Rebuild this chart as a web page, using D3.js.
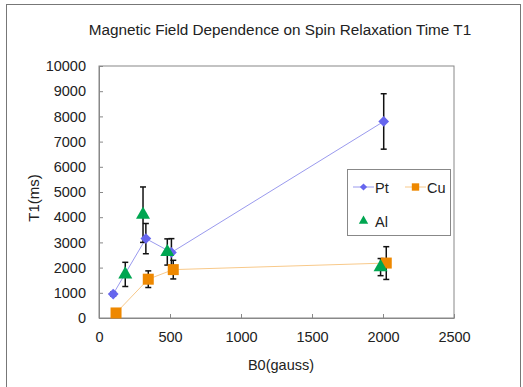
<!DOCTYPE html>
<html lang="en">
    <head>
        <meta charset="utf-8">
        <title>Magnetic Field Dependence</title>
        <script type="text/javascript" src="https://d3js.org/d3.v7.min.js"></script>
        <style type="text/css">
            body { margin: 0; background: white; }
            text {
                font-family: "Liberation Sans", Arial, sans-serif;
                font-size: 14.5px;
                fill: #222;
            }
        </style>
    </head>
    <body>
        <script type="text/javascript">

        // Data
        var xTicks = [0, 500, 1000, 1500, 2000, 2500];
        var yTicks = [0, 1000, 2000, 3000, 4000, 5000, 6000, 7000, 8000, 9000, 10000];

        var ptB0 = [100, 330, 510, 2005];
        var ptT1 = [950, 3150, 2600, 7800];
        var ptErr = [80, 600, 550, 1100];

        var cuB0 = [120, 347, 523, 2023];
        var cuT1 = [200, 1540, 1920, 2180];
        var cuErr = [0, 330, 370, 650];

        var alB0 = [185, 310, 481, 1983];
        var alT1 = [1730, 4100, 2620, 2020];
        var alErr = [480, 1100, 520, 340];

        var w = 523;
        var h = 387;

        var svg = d3.select("body")
                    .append("svg")
                    .attr("width", w)
                    .attr("height", h);

        // outer frame
        svg.append("rect")
            .attr("x", 6.5).attr("y", 4.5)
            .attr("width", 514).attr("height", 400)
            .attr("fill", "none")
            .attr("stroke", "#777");

        var x = d3.scaleLinear().domain([0, 2500]).range([99, 454]);
        var y = d3.scaleLinear().domain([0, 10000]).range([318, 66]);

        // plot frame
        svg.append("rect")
            .attr("x", x(0)).attr("y", y(10000))
            .attr("width", x(2500) - x(0)).attr("height", y(0) - y(10000))
            .attr("fill", "none")
            .attr("stroke", "#888");

        var xAxis = svg.append("g")
            .attr("transform", "translate(0," + y(0) + ")")
            .call(d3.axisBottom(x).tickValues(xTicks).tickFormat(d3.format("d"))
                .tickSizeInner(-4).tickSizeOuter(0).tickPadding(14));
        var yAxis = svg.append("g")
            .attr("transform", "translate(" + x(0) + ",0)")
            .call(d3.axisLeft(y).tickValues(yTicks).tickFormat(d3.format("d"))
                .tickSizeInner(-4).tickSizeOuter(0).tickPadding(13));
        [xAxis, yAxis].forEach(function(a) {
            a.select(".domain").attr("stroke", "#888");
            a.selectAll(".tick line").attr("stroke", "#888");
            a.selectAll("text").attr("fill", "#222");
        });

        // Labels
        svg.append("text").attr("x", 280).attr("y", 35).attr("text-anchor", "middle")
            .style("font-size", "15.3px")
            .text("Magnetic Field Dependence on Spin Relaxation Time T1");
        svg.append("text").attr("x", 281).attr("y", 370).attr("text-anchor", "middle")
            .text("B0(gauss)");
        svg.append("text").attr("transform", "translate(39,198) rotate(-90)").attr("text-anchor", "middle")
            .style("font-size", "15px")
            .text("T1(ms)");

        function pts(b0, t1, err) {
            return b0.map(function(d, i) { return { x: d, y: t1[i], e: err[i] }; });
        }
        var series = [
            { name: "Pt", data: pts(ptB0, ptT1, ptErr), color: "#6666ee", line: "#9a9aee", shape: d3.symbolSquare, size: 58, rot: 45, hasLine: true },
            { name: "Cu", data: pts(cuB0, cuT1, cuErr), color: "#ee8800", line: "#f8c98a", shape: d3.symbolSquare, size: 121, rot: 0, hasLine: true },
            { name: "Al", data: pts(alB0, alT1, alErr), color: "#00a651", line: null, shape: d3.symbolTriangle, size: 85, rot: 0, hasLine: false }
        ];

        var line = d3.line().x(function(d) { return x(d.x); }).y(function(d) { return y(d.y); });

        series.forEach(function(s) {
            if (s.hasLine) {
                svg.append("path").datum(s.data)
                    .attr("d", line).attr("fill", "none")
                    .attr("stroke", s.line).attr("stroke-width", 1);
            }
        });

        // Error bars
        series.forEach(function(s) {
            var g = svg.append("g");
            s.data.filter(function(d) { return d.e > 0; }).forEach(function(d) {
                var cx = x(d.x);
                g.append("line").attr("x1", cx).attr("x2", cx)
                    .attr("y1", y(d.y - d.e)).attr("y2", y(d.y + d.e))
                    .attr("stroke", "#111").attr("stroke-width", 1.5);
                [d.y - d.e, d.y + d.e].forEach(function(v) {
                    g.append("line").attr("x1", cx - 3).attr("x2", cx + 3)
                        .attr("y1", y(v)).attr("y2", y(v))
                        .attr("stroke", "#111").attr("stroke-width", 1.5);
                });
            });
        });

        // Markers
        series.forEach(function(s) {
            svg.selectAll(null).data(s.data).enter()
                .append("path")
                .attr("d", d3.symbol().type(s.shape).size(s.size))
                .attr("transform", function(d) { return "translate(" + x(d.x) + "," + y(d.y) + ") rotate(" + s.rot + ")"; })
                .attr("fill", s.color);
        });

        // Legend
        var lg = svg.append("g");
        lg.append("rect").attr("x", 347.5).attr("y", 169.5).attr("width", 103).attr("height", 66)
            .attr("fill", "white").attr("stroke", "#888");
        var legendPos = [[353, 187], [405, 187], [353, 221]];
        series.forEach(function(s, i) {
            var p = legendPos[i];
            if (s.hasLine) {
                lg.append("line").attr("x1", p[0]).attr("x2", p[0] + 21)
                    .attr("y1", p[1]).attr("y2", p[1]).attr("stroke", s.line);
            }
            lg.append("path")
                .attr("d", d3.symbol().type(s.shape).size(s.size * 0.45))
                .attr("transform", "translate(" + (p[0] + 10.5) + "," + p[1] + ") rotate(" + s.rot + ")")
                .attr("fill", s.color);
            lg.append("text").attr("x", p[0] + 22).attr("y", p[1] + 5.5).text(s.name);
        });

        </script>
    </body>
</html>
